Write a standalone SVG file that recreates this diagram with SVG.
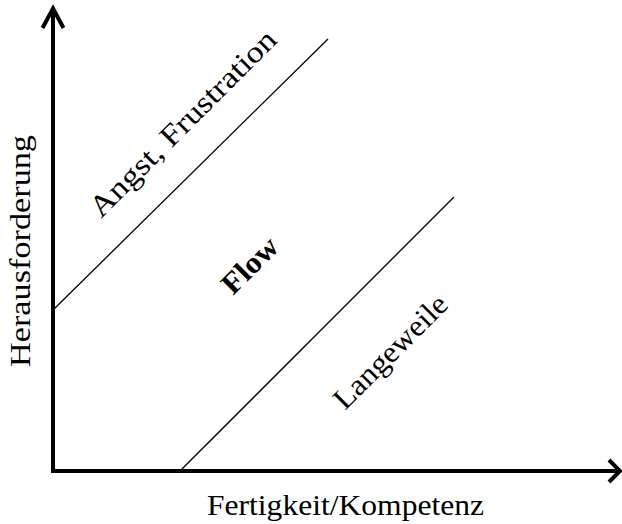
<svg xmlns="http://www.w3.org/2000/svg" width="622" height="524" viewBox="0 0 622 524">
<style>
.ax{stroke:#000;stroke-width:4;fill:none;stroke-linecap:butt;stroke-linejoin:miter}
.bd{stroke:#000;stroke-width:1.3;fill:none}
.t{font-family:"Liberation Serif","Times New Roman",serif;font-size:30px;fill:#000}
.b{font-weight:bold}
</style>
<rect width="622" height="524" fill="#fff"/>
<g id="connectors">
<path class="ax" d="M53,473 V9"/>
<path class="ax" d="M42.5,28 L53,8.5 L63.5,28"/>
<path class="ax" d="M51,471 H619"/>
<path class="ax" d="M609,460 L620,471 L609,482"/>
<line class="bd" x1="53" y1="310" x2="328" y2="39"/>
<line class="bd" x1="181" y1="470" x2="454" y2="197"/>
</g>
<g id="x-label"><text class="t" x="207" y="515" textLength="277" lengthAdjust="spacingAndGlyphs">Fertigkeit/Kompetenz</text></g>
<g id="y-label"><text class="t" transform="translate(30,367) rotate(-90)" x="0" y="0" textLength="232" lengthAdjust="spacingAndGlyphs">Herausforderung</text></g>
<g id="angst"><text class="t" transform="translate(101,219) rotate(-45)" x="0" y="0" textLength="251" lengthAdjust="spacingAndGlyphs">Angst, Frustration</text></g>
<g id="flow"><text class="t b" transform="translate(233,296) rotate(-45)" x="0" y="0" textLength="67" lengthAdjust="spacingAndGlyphs">Flow</text></g>
<g id="langeweile"><text class="t" transform="translate(345,411) rotate(-45)" x="0" y="0" textLength="148" lengthAdjust="spacingAndGlyphs">Langeweile</text></g>
</svg>
